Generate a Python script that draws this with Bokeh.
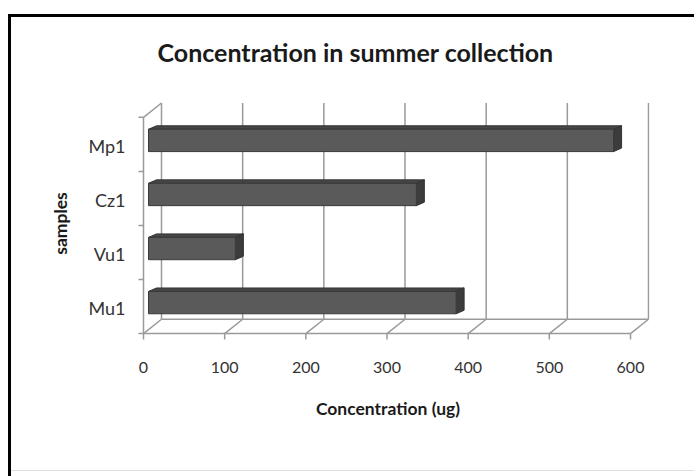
from bokeh.plotting import figure
from bokeh.models import Range1d, FixedTicker
from bokeh.embed import file_html
from bokeh.resources import INLINE

# ---------------- data ----------------
samples = ["Mu1", "Vu1", "Cz1", "Mp1"]          # bottom -> top
concentration = [379, 107, 330, 573]             # ug
x_ticks = [0, 100, 200, 300, 400, 500, 600]
title_text = "Concentration in summer collection"
x_title = "Concentration (ug)"
y_title = "samples"

# ---------------- layout (canvas pixels) ----------------
W, H = 694, 476
FRAME_L, FRAME_R, FRAME_T, FRAME_B = 126, 649, 98, 346
X0_PX, XMAX_PX = 143, 630          # front value axis: 0 and 600
PXX = (XMAX_PX - X0_PX) / 600.0
Y_LABEL0 = 307.5                   # canvas y of first category label
PXY = 54.5

def dx(px):
    return (px - X0_PX) / PXX

def dy(py):
    return (Y_LABEL0 - py) / PXY

LOW = dy(333)                 # front floor (data y)
DXV = 18 / PXX                # wall depth offsets (data units)
DYV = 14.5 / PXY
BX0 = 5 / PXX                 # bar front face left
BAR_LO = dy(313) - dy(307.5) - 0.0   # bar front face bottom relative to category
BAR_HI = dy(290.5) - dy(307.5)       # bar front face top relative to category
ODX, ODY = 8 / PXX, 3.5 / PXY # bar depth offsets

frame_css = {
    "background-image": "linear-gradient(#000,#000), linear-gradient(#000,#000), linear-gradient(#e0e0e0,#e0e0e0)",
    "background-size": "3px 470px, 700px 3px, 700px 1px",
    "background-position": "8px 14px, 8px 14px, 8px 470px",
    "background-repeat": "no-repeat",
    "background-color": "white",
}

p = figure(width=W, height=H,
           x_range=Range1d(dx(FRAME_L), dx(FRAME_R)),
           y_range=Range1d(dy(FRAME_B), dy(FRAME_T)),
           min_border_left=FRAME_L, min_border_right=W - FRAME_R,
           min_border_top=FRAME_T, min_border_bottom=H - FRAME_B,
           output_backend="svg", toolbar_location=None, styles=frame_css)
p.outline_line_color = None
p.xgrid.visible = False
p.ygrid.visible = False
p.background_fill_color = "white"
p.border_fill_color = None

# ---------------- walls ----------------
GRID = "#9a9a9a"
n = len(samples)
xs0, ys0, xs1, ys1 = [], [], [], []
for v in x_ticks:
    xs0.append(v + DXV); ys0.append(LOW + DYV); xs1.append(v + DXV); ys1.append(LOW + n + DYV)
    xs0.append(v); ys0.append(LOW); xs1.append(v + DXV); ys1.append(LOW + DYV)
    xs0.append(v); ys0.append(LOW); xs1.append(v); ys1.append(LOW - 6 / PXY)
xs0 += [x_ticks[0], x_ticks[0] + DXV]; ys0 += [LOW, LOW + DYV]
xs1 += [x_ticks[-1], x_ticks[-1] + DXV]; ys1 += [LOW, LOW + DYV]
xs0 += [0, 0]; ys0 += [LOW, LOW + n]
xs1 += [0, DXV]; ys1 += [LOW + n, LOW + n + DYV]
for k in range(n + 1):
    xs0.append(-5 / PXX); ys0.append(LOW + k); xs1.append(0); ys1.append(LOW + k)
p.segment(x0=xs0, y0=ys0, x1=xs1, y1=ys1, line_color=GRID, line_width=1.5)

# ---------------- bars ----------------
front_x, front_y, top_x, top_y, cap_x, cap_y = [], [], [], [], [], []
for i, v in enumerate(concentration):
    lo, hi = i + BAR_LO, i + BAR_HI
    x1 = BX0 + v
    front_x.append([BX0, x1, x1, BX0]); front_y.append([lo, lo, hi, hi])
    top_x.append([BX0, x1, x1 + ODX, BX0 + ODX]); top_y.append([hi, hi, hi + ODY, hi + ODY])
    cap_x.append([x1, x1, x1 + ODX, x1 + ODX]); cap_y.append([lo, hi, hi + ODY, lo + ODY])
p.patches(xs=top_x, ys=top_y, fill_color="#474747", line_color="#333333", line_width=1)
p.patches(xs=cap_x, ys=cap_y, fill_color="#3c3c3c", line_color="#333333", line_width=1)
p.patches(xs=front_x, ys=front_y, fill_color="#5a5a5a", line_color="#3a3a3a", line_width=1)

# ---------------- title ----------------
p.title.text = title_text
p.title.align = "left"
p.title.offset = 157 - FRAME_L
p.title.standoff = 68
p.title.text_font = "Lato"
p.title.text_font_style = "bold"
p.title.text_font_size = "25px"
p.title.text_color = "#1a1a1a"

# ---------------- axes ----------------
xa = p.xaxis[0]
xa.ticker = FixedTicker(ticks=x_ticks)
xa.axis_line_color = None
xa.major_tick_line_color = None
xa.minor_tick_line_color = None
xa.major_tick_in = 0
xa.major_tick_out = 0
xa.major_label_standoff = 15
xa.major_label_text_font = "Lato"
xa.major_label_text_font_size = "16px"
xa.major_label_text_color = "#333333"
xa.axis_label = x_title
xa.axis_label_standoff = 22
xa.axis_label_text_font = "Lato"
xa.axis_label_text_font_style = "bold"
xa.axis_label_text_font_size = "17.5px"
xa.axis_label_text_color = "#1a1a1a"

ya = p.yaxis[0]
ya.ticker = FixedTicker(ticks=list(range(n)))
ya.major_label_overrides = {i: s for i, s in enumerate(samples)}
ya.axis_line_color = None
ya.major_tick_line_color = None
ya.minor_tick_line_color = None
ya.major_tick_in = 0
ya.major_tick_out = 0
ya.major_label_standoff = 1
ya.major_label_text_font = "Lato"
ya.major_label_text_font_size = "18px"
ya.major_label_text_color = "#333333"
ya.axis_label = y_title
ya.axis_label_standoff = 14
ya.axis_label_text_font = "Lato"
ya.axis_label_text_font_style = "bold"
ya.axis_label_text_font_size = "17.5px"
ya.axis_label_text_color = "#1a1a1a"

open("out.html", "w").write(file_html(p, INLINE))
